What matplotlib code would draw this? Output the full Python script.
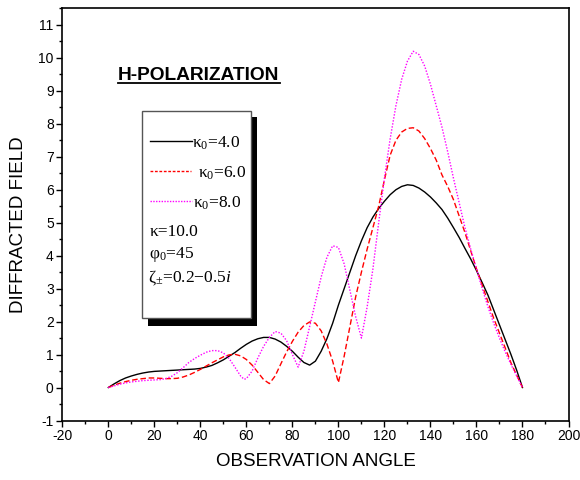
import matplotlib
matplotlib.use("Agg")
import matplotlib.pyplot as plt
from matplotlib.patches import Rectangle
from matplotlib.lines import Line2D
from matplotlib.ticker import MultipleLocator

# ---- data ----
x_k4 = [0, 2.5, 5, 7.5, 10, 12.5, 15, 17.5, 20, 22.5, 25, 27.5, 30, 32.5, 35, 37.5, 40,
        42.5, 45, 47.5, 50, 52.5, 55, 57.5, 60, 62.5, 65, 67.5, 70, 72.5, 75, 77.5, 80,
        82.5, 85, 87.5, 90, 92.5, 95, 97.5, 100, 102.5, 105, 107.5, 110, 112.5, 115,
        117.5, 120, 122.5, 125, 127.5, 130, 132.5, 135, 137.5, 140, 142.5, 145, 147.5,
        150, 152.5, 155, 157.5, 160, 162.5, 165, 167.5, 170, 172.5, 175, 177.5, 180]
y_k4 = [0, 0.11, 0.21, 0.29, 0.35, 0.4, 0.44, 0.47, 0.49, 0.5, 0.51, 0.52, 0.53, 0.54,
        0.55, 0.56, 0.58, 0.62, 0.67, 0.75, 0.84, 0.95, 1.06, 1.19, 1.31, 1.41, 1.48,
        1.52, 1.52, 1.47, 1.38, 1.25, 1.1, 0.92, 0.76, 0.68, 0.8, 1.1, 1.48, 1.95, 2.5,
        3.0, 3.5, 4.0, 4.45, 4.85, 5.17, 5.43, 5.65, 5.85, 6.0, 6.1, 6.15, 6.13, 6.05,
        5.93, 5.78, 5.6, 5.4, 5.14, 4.85, 4.55, 4.22, 3.9, 3.55, 3.18, 2.8, 2.35, 1.9,
        1.45, 1.0, 0.52, 0]

x_k6 = [0, 2.5, 5, 7.5, 10, 12.5, 15, 17.5, 20, 22.5, 25, 27.5, 30, 32.5, 35, 37.5, 40,
        42.5, 45, 47.5, 50, 52.5, 55, 57.5, 60, 62.5, 65, 67.5, 70, 72.5, 75, 77.5, 80,
        82.5, 85, 87.5, 90, 92.5, 95, 97.5, 100, 102.5, 105, 107.5, 110, 112.5, 115,
        117.5, 120, 122.5, 125, 127.5, 130, 132.5, 135, 137.5, 140, 142.5, 145, 147.5,
        150, 152.5, 155, 157.5, 160, 162.5, 165, 167.5, 170, 172.5, 175, 177.5, 180]
y_k6 = [0, 0.07, 0.13, 0.18, 0.22, 0.25, 0.27, 0.29, 0.29, 0.28, 0.27, 0.27, 0.28,
        0.32, 0.38, 0.46, 0.55, 0.65, 0.75, 0.84, 0.93, 0.99, 1.01, 0.96, 0.85, 0.68,
        0.46, 0.24, 0.12, 0.35, 0.72, 1.08, 1.4, 1.68, 1.88, 1.99, 1.95, 1.72, 1.32,
        0.8, 0.15, 0.95, 1.85, 2.75, 3.5, 4.2, 4.85, 5.5, 6.3, 7.05, 7.5, 7.75, 7.86,
        7.88, 7.78, 7.55, 7.25, 6.9, 6.45, 6.1, 5.7, 5.2, 4.7, 4.15, 3.6, 3.1, 2.6, 2.1,
        1.65, 1.2, 0.75, 0.37, 0]

x_k8 = [0, 2.5, 5, 7.5, 10, 12.5, 15, 17.5, 20, 22.5, 25, 27.5, 30, 32.5, 35, 37.5, 40,
        42.5, 45, 47.5, 50, 52.5, 55, 57.5, 59, 60, 62.5, 65, 67.5, 70, 72.5, 75, 77.5,
        80, 82.5, 85, 87.5, 90, 92.5, 95, 97.5, 100, 102.5, 105, 107.5, 110, 112.5, 115,
        117.5, 120, 122.5, 125, 127.5, 130, 132.5, 135, 137.5, 140, 142.5, 145, 147.5,
        150, 152.5, 155, 157.5, 160, 162.5, 165, 167.5, 170, 172.5, 175, 177.5, 180]
y_k8 = [0, 0.05, 0.1, 0.14, 0.17, 0.19, 0.21, 0.22, 0.23, 0.24, 0.27, 0.34, 0.45, 0.6,
        0.76, 0.88, 0.98, 1.07, 1.12, 1.12, 1.05, 0.88, 0.62, 0.35, 0.25, 0.27, 0.5, 0.9,
        1.25, 1.52, 1.7, 1.65, 1.42, 1.0, 0.62, 1.1, 1.85, 2.6, 3.35, 3.95, 4.3, 4.25,
        3.75, 2.95, 2.15, 1.5, 2.45, 3.6, 5.0, 6.35, 7.55, 8.55, 9.35, 9.9, 10.2, 10.1,
        9.75, 9.2, 8.55, 7.9, 7.15, 6.35, 5.6, 4.85, 4.2, 3.6, 3.0, 2.45, 1.95, 1.5, 1.08,
        0.7, 0.35, 0]

series_labels = ["4.0", "6.0", "8.0"]
x_ticks = list(range(-20, 201, 20))
y_ticks = list(range(-1, 12))

# ---- style ----
plt.rcParams["font.family"] = ["Liberation Sans", "DejaVu Sans"]
plt.rcParams["axes.unicode_minus"] = False
plt.rcParams["mathtext.fontset"] = "custom"
plt.rcParams["mathtext.rm"] = "Liberation Serif"
plt.rcParams["mathtext.it"] = "Liberation Serif:italic"

W, H = 580, 480
fig = plt.figure(figsize=(W / 100, H / 100), dpi=100)

def fx(px):
    return px / W

def fy(py):
    return 1 - py / H

ax = fig.add_axes([fx(62.3), fy(420.5), fx(568.5) - fx(62.3), fy(8.4) - fy(420.5)])

ax.plot(x_k4, y_k4, color="black", lw=1.0, ls="-")
ax.plot(x_k6, y_k6, color="#ff0000", lw=1.0, ls=(0, (4, 2)))
ax.plot(x_k8, y_k8, color="#ff00ff", lw=1.0, ls=(0, (1, 1.2)))

ax.set_xlim(-20, 200)
ax.set_ylim(-1, 11.5)
ax.set_xticks(x_ticks)
ax.set_yticks(y_ticks)
ax.xaxis.set_minor_locator(MultipleLocator(10))
ax.yaxis.set_minor_locator(MultipleLocator(0.5))
ax.tick_params(which="major", direction="out", length=4.2, width=1.0,
               labelsize=10, top=False, right=False)
ax.tick_params(which="minor", direction="out", length=2.4, width=1.0,
               top=False, right=False)
ax.tick_params(axis="x", pad=2)
ax.tick_params(axis="y", pad=2)
for s in ax.spines.values():
    s.set_linewidth(1.2)

fig.text(fx(315.5), fy(461), "OBSERVATION ANGLE", fontsize=13.5, ha="center", va="center")
fig.text(fx(18.5), fy(225), "DIFFRACTED FIELD", fontsize=13.5, ha="center", va="center",
         rotation=90)

# title with underline
fig.text(fx(118), fy(75), "H-POLARIZATION", fontsize=13.8, fontweight="bold",
         ha="left", va="center")
fig.add_artist(Line2D([fx(118), fx(280)], [fy(83), fy(83)], color="black", lw=1.3))

# legend box with shadow
fig.add_artist(Rectangle((fx(148.3), fy(325.7)), fx(256.7) - fx(148.3),
                         fy(116.7) - fy(325.7), facecolor="black", edgecolor="none",
                         zorder=5))
fig.add_artist(Rectangle((fx(142.3), fy(318.3)), fx(251) - fx(142.3),
                         fy(110.7) - fy(318.3), facecolor="white", edgecolor="#555555",
                         lw=1.0, zorder=6))

serif = ["Liberation Serif", "DejaVu Serif"]
fs = 12.5
fig.add_artist(Line2D([fx(150), fx(191.7)], [fy(140.5), fy(140.5)], color="black",
                      lw=1.0, zorder=7))
fig.text(fx(192.3), fy(143), "κ$_0$=" + series_labels[0], family=serif, fontsize=fs,
         ha="left", va="center", zorder=7)
fig.add_artist(Line2D([fx(150), fx(190.7)], [fy(171), fy(171)], color="#ff0000",
                      lw=1.0, ls=(0, (2, 1.2)), zorder=7))
fig.text(fx(197.7), fy(173.5), "κ$_0$=" + series_labels[1], family=serif, fontsize=fs,
         ha="left", va="center", zorder=7)
fig.add_artist(Line2D([fx(150), fx(191.7)], [fy(200.7), fy(200.7)], color="#ff00ff",
                      lw=1.0, ls=(0, (1, 1)), zorder=7))
fig.text(fx(192.7), fy(203), "κ$_0$=" + series_labels[2], family=serif, fontsize=fs,
         ha="left", va="center", zorder=7)
fig.text(fx(149.3), fy(232.3), "κ=10.0", family=serif, fontsize=fs,
         ha="left", va="center", zorder=7)
fig.text(fx(149.3), fy(255), "φ$_0$=45", family=serif, fontsize=fs,
         ha="left", va="center", zorder=7)
fig.text(fx(148.3), fy(278.3), "ζ$_{\\pm}$=0.2−0.5$\\mathit{i}$", family=serif,
         fontsize=fs, ha="left", va="center", zorder=7)

fig.savefig("out.png", dpi=100)
